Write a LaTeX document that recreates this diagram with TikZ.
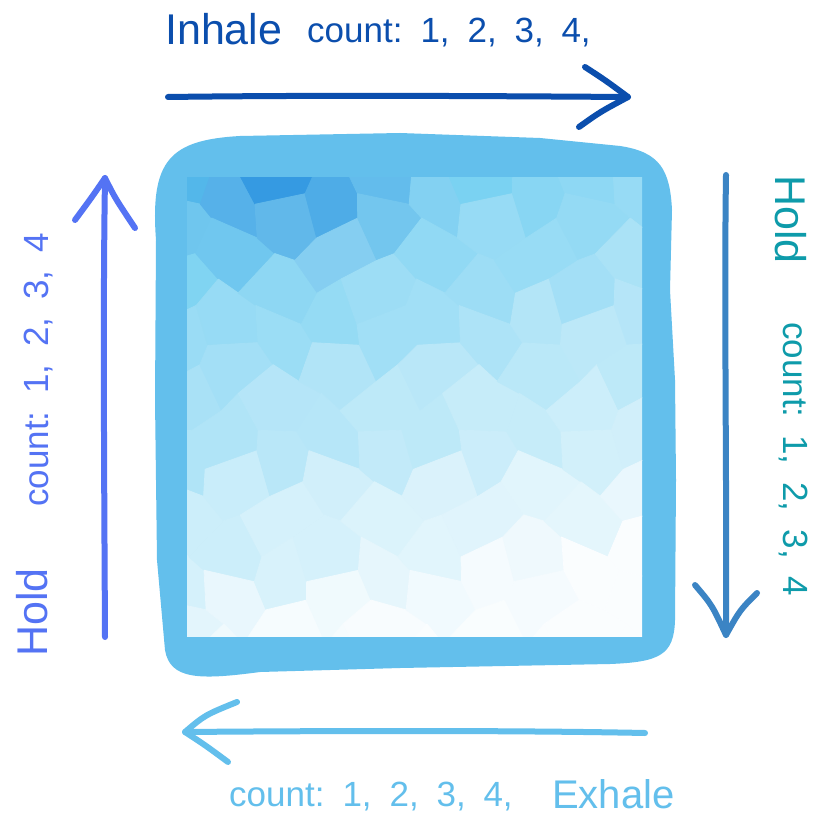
\documentclass[tikz,border=0pt]{standalone}
\usepackage{fontspec}
\setmainfont{Liberation Sans}
\definecolor{inhc}{HTML}{0B4EAD}
\definecolor{holdL}{HTML}{5473F4}
\definecolor{holdRarr}{HTML}{3B84C4}
\definecolor{holdRtxt}{HTML}{0E9BAA}
\definecolor{exhc}{HTML}{63BFEC}
\definecolor{blobc}{HTML}{63BFEC}
\definecolor{dkb}{HTML}{2C93E0}
\definecolor{mdb}{HTML}{6ACCF0}
\tikzset{
  stroke/.style={line width=6pt, line cap=round, line join=round},
  bigtxt/.style={font=\fontsize{43}{43}\selectfont, inner sep=0pt, anchor=base west},
  cnttxt/.style={font=\fontsize{35}{35}\selectfont, inner sep=0pt, anchor=base west},
}
\newcommand\cntlbl[1]{count:\hspace{18pt}\makebox[47pt][l]{1,}\makebox[47pt][l]{2,}\makebox[47pt][l]{3,}#1}
\begin{document}
\begin{tikzpicture}[x=1pt,y=-1pt]
\fill[white] (0,0) rectangle (812,818);
\useasboundingbox (0,0) rectangle (812,818);

% blob frame
\fill[blobc] (156,240) .. controls (150,160) and (170,140) .. (240,136)
  -- (400,133) -- (540,138) -- (620,146)
  .. controls (660,152) and (670,170) .. (672,210)
  -- (670,290) -- (675,380) -- (676,480) -- (675,620)
  .. controls (674,655) and (660,662) .. (610,664)
  -- (400,668) -- (260,672)
  .. controls (200,680) and (170,680) .. (165,650)
  -- (157,560) -- (155,400) -- cycle;

% mosaic picture
\begin{scope}
\clip (187,178) rectangle (642,636);
\fill[white!60!mdb] (187,178) rectangle (642,636);
\foreach \i in {0,...,10}{
  \foreach \j in {-1,...,8}{
    \pgfmathtruncatemacro\cx{180+51*\i}
    \pgfmathtruncatemacro\cy{170+58*\j+29*mod(\i,2)}
    \pgfmathsetmacro\uu{(\cx-187)/455}
    \pgfmathsetmacro\vv{(\cy-178)/458}
    \pgfmathsetmacro\nz{sin(97*\i+131*\j+17*\i*\j)}
    \pgfmathtruncatemacro\wh{max(0,min(97,100*(0.25*\uu+0.85*\vv+0.045*\nz)))}
    \pgfmathtruncatemacro\dk{max(0,min(100,100*(1-sqrt((\uu-0.22)^2+(1.5*\vv)^2)/0.38)))}
    \colorlet{cca}{dkb!\dk!mdb}
    \colorlet{cc}{white!\wh!cca}
    \foreach \k/\dx/\dy in {0/34/0,1/17/29,2/-17/29,3/-34/0,4/-17/-29,5/17/-29}{
      \pgfmathsetmacro\px{\cx+\dx}
      \pgfmathsetmacro\py{\cy+\dy}
      \coordinate (p\k) at ({\px+10*sin(3.7*\px+9.1*\py)},{\py+10*sin(5.3*\px-7.1*\py+40)});
    }
    \fill[cc, draw=cc, line width=0.8pt, line join=round] (p0)--(p1)--(p2)--(p3)--(p4)--(p5)--cycle;
  }
}
\end{scope}

% top arrow (Inhale)
\coordinate (inA) at (168,97);
\coordinate (inB) at (628,97);
\coordinate (inU) at (585,67);
\coordinate (inD) at (579,127);
\draw[stroke, inhc] (inA) .. controls (320,95) and (480,96) .. (inB);
\draw[stroke, inhc] (inU) .. controls (605,80) .. (inB) .. controls (600,112) .. (inD);

% left arrow (Hold)
\coordinate (hlA) at (105,637);
\coordinate (hlB) at (105,178);
\coordinate (hlL) at (75,220);
\coordinate (hlR) at (135,228);
\draw[stroke, holdL] (hlA) .. controls (104,450) and (103,300) .. (hlB);
\draw[stroke, holdL] (hlL) .. controls (92,197) .. (hlB) .. controls (115,198) .. (hlR);

% right arrow (Hold)
\coordinate (hrA) at (726,175);
\coordinate (hrB) at (726,635);
\coordinate (hrL) at (695,585);
\coordinate (hrR) at (757,593);
\draw[stroke, holdRarr] (hrA) .. controls (724,300) and (727,500) .. (hrB);
\draw[stroke, holdRarr] (hrL) .. controls (712,605) .. (hrB) .. controls (740,610) .. (hrR);

% bottom arrow (Exhale)
\coordinate (exA) at (645,733);
\coordinate (exB) at (185,732);
\coordinate (exU) at (237,702);
\coordinate (exD) at (228,762);
\draw[stroke, exhc] (exA) .. controls (500,730) and (300,731) .. (exB);
\draw[stroke, exhc] (exU) .. controls (205,715) .. (exB) .. controls (205,745) .. (exD);

% labels
\node[bigtxt, inhc] (inhale) at (165,45) {Inhale};
\node[cnttxt, inhc] (inhcnt) at (307,43) {\cntlbl{4,}};
\node[bigtxt, holdL, rotate=90] (holdl) at (47,657) {Hold};
\node[cnttxt, holdL, rotate=90] (cntl) at (48,507) {\cntlbl{4}};
\node[bigtxt, holdRtxt, rotate=-90] (holdr) at (775,175) {Hold};
\node[cnttxt, holdRtxt, rotate=-90] (cntr) at (783,322) {\cntlbl{4}};
\node[cnttxt, exhc] (exhcnt) at (229,806) {\cntlbl{4,}};
\node[bigtxt, exhc, font=\fontsize{40}{40}\selectfont] (exhale) at (552,808) {Exhale};
\end{tikzpicture}
\end{document}
